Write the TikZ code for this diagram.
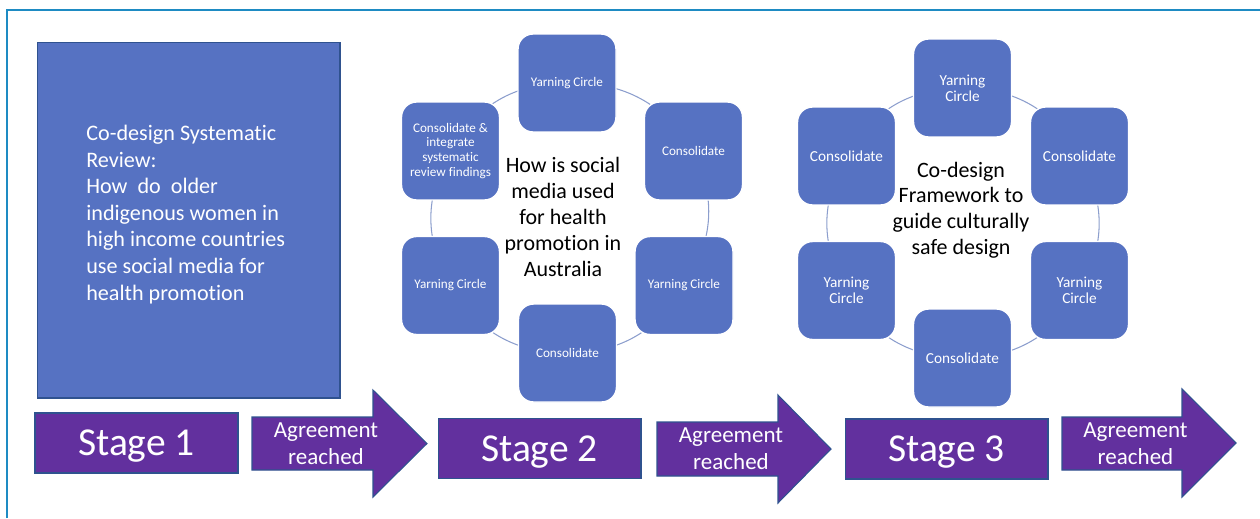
\documentclass[tikz,border=0pt]{standalone}
\usepackage{fontspec}
\setmainfont[Ligatures={NoCommon}]{Carlito}
\usetikzlibrary{backgrounds}

\definecolor{framecol}{RGB}{30,139,195}
\definecolor{boxblue}{RGB}{86,114,194}
\definecolor{stagepurple}{RGB}{98,48,158}
\definecolor{edgeblue}{RGB}{47,82,143}
\definecolor{ringcol}{RGB}{140,158,205}

\begin{document}
\begin{tikzpicture}[x=0.02cm, y=-0.02cm,
  cyclebox/.style={rectangle, rounded corners=0.3cm, fill=boxblue, draw=white, line width=0.8pt,
    minimum width=1.96cm, minimum height=1.96cm, inner sep=1pt, text=white, align=center},
  smalltxt/.style={font=\fontsize{7.5}{8.5}\selectfont},
  midtxt/.style={font=\fontsize{8.7}{9.2}\selectfont},
  hubtxt/.style={align=center, inner sep=0pt, font=\fontsize{12.5}{14.7}\selectfont},
  stagebox/.style={rectangle, fill=stagepurple, draw=edgeblue, line width=0.6pt,
    minimum width=4.06cm, minimum height=1.2cm, text depth=0pt, text=white, font=\fontsize{22.5}{26}\selectfont},
  stagearrow/.style={fill=stagepurple, draw=edgeblue, line width=0.6pt},
  arrowtxt/.style={align=center, inner sep=0pt, text=white, font=\fontsize{13.1}{15.5}\selectfont},
  ringline/.style={draw=ringcol, line width=0.6pt}
]
\useasboundingbox (0,0) rectangle (1260,518);

% Frame
\draw[framecol, line width=1.13pt] (7,518) -- (7,10) -- (1260,10);

% Stage 1: systematic review
\node[rectangle, fill=boxblue, draw=edgeblue, line width=0.6pt, minimum width=6.06cm, minimum height=7.12cm] (review) at (188.5,220) {};
\node[anchor=west, align=left, inner sep=0pt, text=white, font=\fontsize{12.6}{15.1}\selectfont] (reviewq) at (86,214.5)
  {Co-design Systematic\\Review:\\How\ \ do\ \ older\\indigenous women in\\high income countries\\use social media for\\health promotion};

% Stage 2 cycle
\node[cyclebox, smalltxt] (s2top) at (567,83) {Yarning Circle};
\node[cyclebox, smalltxt] (s2ur) at (693.5,151) {Consolidate};
\node[cyclebox, smalltxt] (s2lr) at (684,285.5) {Yarning Circle};
\node[cyclebox, smalltxt] (s2bot) at (567.5,353) {Consolidate};
\node[cyclebox, smalltxt] (s2ll) at (450.5,285.5) {Yarning Circle};
\node[cyclebox, smalltxt] (s2ul) at (450.5,151) {Consolidate \&\\integrate\\systematic\\review findings};
\node[hubtxt] (s2hub) at (563,217) {How is social\\media used\\for health\\promotion in\\Australia};

% Stage 3 cycle
\node[cyclebox, midtxt] (s3top) at (962.5,88) {Yarning\\Circle};
\node[cyclebox, midtxt] (s3ur) at (1079.5,156) {Consolidate};
\node[cyclebox, midtxt] (s3lr) at (1079.5,290.5) {Yarning\\Circle};
\node[cyclebox, midtxt] (s3bot) at (962.5,358) {Consolidate};
\node[cyclebox, midtxt] (s3ll) at (846.5,290.5) {Yarning\\Circle};
\node[cyclebox, midtxt] (s3ul) at (846.5,156) {Consolidate};
\node[hubtxt] (s3hub) at (961,210) {Co-design\\Framework to\\guide culturally\\safe design};

% Ring connectors behind the boxes
\begin{scope}[on background layer]
\draw[ringline] (s2top.center) to[bend left=30] (s2ur.center);
\draw[ringline] (s2ur.center) to[bend left=30] (s2lr.center);
\draw[ringline] (s2lr.center) to[bend left=30] (s2bot.center);
\draw[ringline] (s2bot.center) to[bend left=30] (s2ll.center);
\draw[ringline] (s2ll.center) to[bend left=30] (s2ul.center);
\draw[ringline] (s2ul.center) to[bend left=30] (s2top.center);
\draw[ringline] (s3top.center) to[bend left=30] (s3ur.center);
\draw[ringline] (s3ur.center) to[bend left=30] (s3lr.center);
\draw[ringline] (s3lr.center) to[bend left=30] (s3bot.center);
\draw[ringline] (s3bot.center) to[bend left=30] (s3ll.center);
\draw[ringline] (s3ll.center) to[bend left=30] (s3ul.center);
\draw[ringline] (s3ul.center) to[bend left=30] (s3top.center);
\end{scope}

% Stage bar
\node[stagebox] (stage1) at (136.5,443) {Stage 1};
\draw[stagearrow] (252,417) -- (373,417) -- (373,390) -- (427,443.5) -- (373,497) -- (373,470) -- (252,470) -- cycle;
\node[arrowtxt] (agree1) at (326,444) {Agreement\\reached};
\node[stagebox] (stage2) at (539.5,448.5) {Stage 2};
\draw[stagearrow] (657,422) -- (778,422) -- (778,395) -- (831,449) -- (778,503) -- (778,476) -- (657,476) -- cycle;
\node[arrowtxt] (agree2) at (731,449) {Agreement\\reached};
\node[stagebox] (stage3) at (946.5,449) {Stage 3};
\draw[stagearrow] (1062,417) -- (1182,417) -- (1182,389) -- (1236,443) -- (1182,497) -- (1182,470) -- (1062,470) -- cycle;
\node[arrowtxt] (agree3) at (1135.5,443.5) {Agreement\\reached};
\end{tikzpicture}
\end{document}
